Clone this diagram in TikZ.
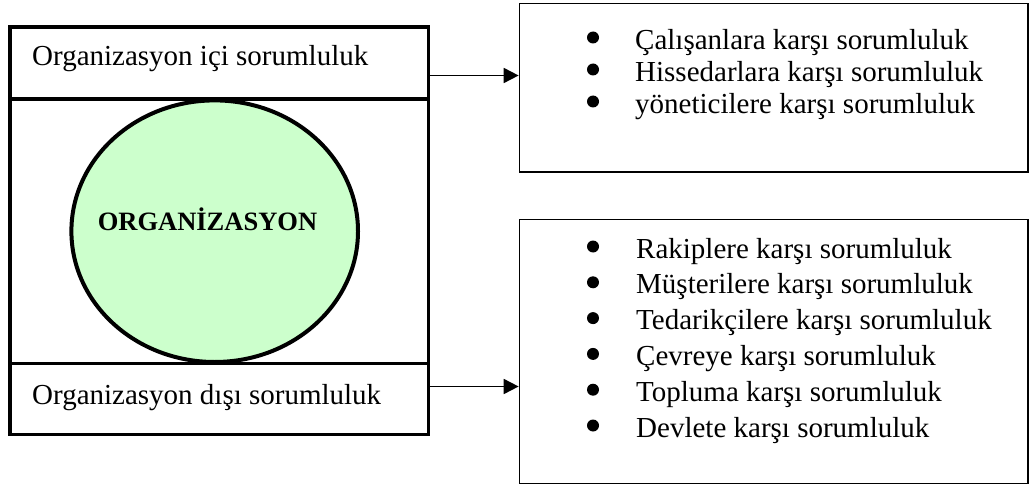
\documentclass[tikz,border=0pt]{standalone}
\usepackage{fontspec}
\setmainfont{Liberation Serif}
\usetikzlibrary{shapes.geometric,arrows.meta}
\definecolor{orggreen}{HTML}{CCFFCC}
\tikzset{
  txt/.style={anchor=base west,inner sep=0pt,font=\fontsize{29}{33}\selectfont},
  boldtxt/.style={anchor=base,inner sep=0pt,font=\fontsize{26.5}{30}\selectfont\bfseries},
  thickbox/.style={draw,line width=3.5pt,rectangle,inner sep=0pt},
  thinbox/.style={draw,line width=1.3pt,rectangle,inner sep=0pt},
  conn/.style={line width=1.8pt,-{Triangle[length=15pt,width=15pt]}},
  bul/.style={fill=black}
}
\begin{document}
\begin{tikzpicture}[x=1pt,y=-1pt]
\useasboundingbox (0,0) rectangle (1033,484);
% left outer box
\node[thickbox,minimum width=418.7pt,minimum height=407.5pt] (outer) at (219.35,230.75) {};
\coordinate (d1) at (0,99);
\coordinate (d2) at (0,363.5);
\draw[line width=3.5pt] (outer.west |- d1) -- (outer.east |- d1);
\draw[line width=3.5pt] (outer.west |- d2) -- (outer.east |- d2);
% ellipse
\node[draw,ellipse,line width=4pt,fill=orggreen,inner sep=0pt,minimum width=286.6pt,minimum height=261.6pt] (org) at (214.7,231.2) {};
\node[boldtxt] (orglabel) at (207.5,230) {ORGANİZASYON};
% left texts
\node[txt] (ic) at (32,66) {Organizasyon içi sorumluluk};
\node[txt] (dis) at (32,404) {Organizasyon dışı sorumluluk};
% right boxes
\node[thinbox,minimum width=508.7pt,minimum height=168.7pt] (inbox) at (773.65,87.65) {};
\node[thinbox,minimum width=508.7pt,minimum height=264.2pt] (outbox) at (773.65,351.4) {};
% arrows
\coordinate (a1) at (0,75.5);
\coordinate (a2) at (0,386.5);
\draw[conn] (outer.east |- a1) -- (inbox.west |- a1);
\draw[conn] (outer.east |- a2) -- (outbox.west |- a2);
% top list
\foreach \y/\t [count=\i] in {50/Çalışanlara karşı sorumluluk,82/Hissedarlara karşı sorumluluk,114/yöneticilere karşı sorumluluk}{
  \node[txt] (in\i) at (635,\y) {\t};
  \fill[bul] (593,\y-12.5) circle (6pt);
}
% bottom list
\foreach \y/\t [count=\i] in {258/Rakiplere karşı sorumluluk,293.8/Müşterilere karşı sorumluluk,329.6/Tedarikçilere karşı sorumluluk,365.4/Çevreye karşı sorumluluk,401.2/Topluma karşı sorumluluk,437/Devlete karşı sorumluluk}{
  \node[txt] (out\i) at (636,\y) {\t};
  \fill[bul] (593,\y-11.5) circle (6pt);
}
\end{tikzpicture}
\end{document}
